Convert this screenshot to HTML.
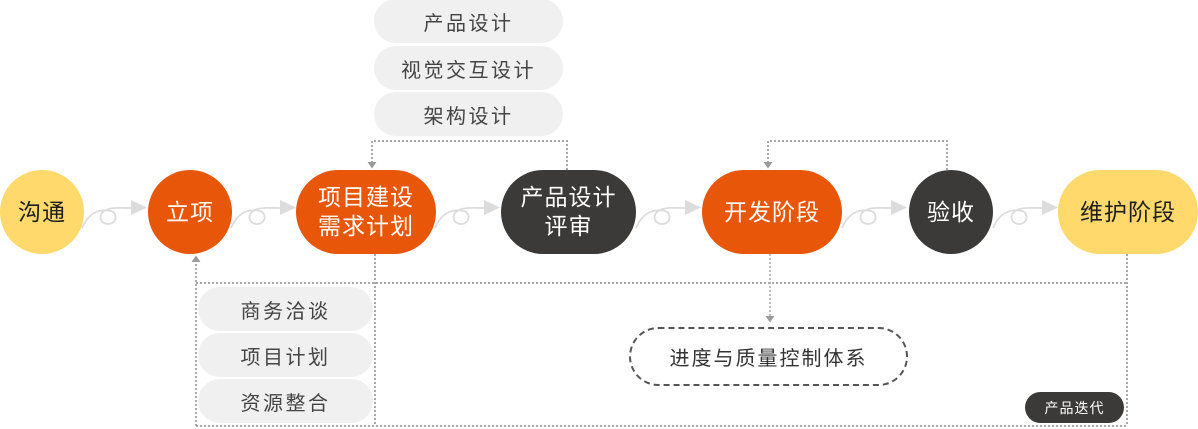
<!DOCTYPE html>
<html><head><meta charset="utf-8">
<style>
html,body{margin:0;padding:0;background:#fff;}
body{width:1198px;height:429px;position:relative;overflow:hidden;font-family:"Liberation Sans","Noto Sans CJK SC",sans-serif;}
.n{position:absolute;top:170px;height:84px;border-radius:42px;display:flex;align-items:center;justify-content:center;text-align:center;font-size:23px;line-height:29px;letter-spacing:1px;color:#fff;}
.y{background:#ffd96b;color:#1e1e1e;}
.o{background:#e8560a;}
.d{background:#3c3a38;}
.g{position:absolute;height:44px;border-radius:22px;background:#f0f0f0;color:#444;font-size:20px;letter-spacing:2.5px;display:flex;align-items:center;justify-content:center;}
svg{position:absolute;left:0;top:0;}
</style></head><body>
<svg width="1198" height="429" viewBox="0 0 1198 429">
<defs>
<g id="cv">
<path d="M82,228 C88,214 98,208 111,211 C118,213 117,224 108,224 C99,224 98,213 106,210 C113,207 121,208 132,208" fill="none" stroke="#dcdcdc" stroke-width="1.8"/>
<polygon points="131,200 131,215 147,207.5" fill="#dcdcdc"/>
</g>
</defs>
<use href="#cv" transform="translate(0,0)"/>
<use href="#cv" transform="translate(149,0)"/>
<use href="#cv" transform="translate(353,0)"/>
<use href="#cv" transform="translate(554,0)"/>
<use href="#cv" transform="translate(760,0)"/>
<use href="#cv" transform="translate(911,0)"/>
<g fill="none" stroke="#a9a9a9" stroke-width="2" stroke-dasharray="2 2">
<path d="M567,170 V141 H372 V162"/>
<path d="M947,170 V141 H768 V162"/>
<path d="M196,426 V261"/>
<path d="M196,283 H1127"/>
<path d="M375,254 V426"/>
<path d="M196,426 H1127"/>
<path d="M1127,254 V426"/>
<path d="M770,254 V316" stroke-width="1.5"/>
</g>
<g fill="#9a9a9a">
<polygon points="367.5,162 376.5,162 372,168.5"/>
<polygon points="763.5,162 772.5,162 768,168.5"/>
<polygon points="191.5,262 200.5,262 196,255.5"/>
<polygon points="765.5,316 774.5,316 770,322.5"/>
</g>
</svg>

<div class="n y" style="left:0;width:84px;">沟通</div>
<div class="n o" style="left:148px;width:84px;">立项</div>
<div class="n o" style="left:296px;width:140px;">项目建设<br>需求计划</div>
<div class="n d" style="left:501px;width:135px;">产品设计<br>评审</div>
<div class="n o" style="left:702px;width:140px;">开发阶段</div>
<div class="n d" style="left:909px;width:84px;">验收</div>
<div class="n y" style="left:1058px;width:140px;">维护阶段</div>

<div class="g" style="left:374px;top:-1px;width:189px;">产品设计</div>
<div class="g" style="left:374px;top:46px;width:189px;">视觉交互设计</div>
<div class="g" style="left:374px;top:92px;width:189px;">架构设计</div>

<div class="g" style="left:198px;top:287px;width:175px;">商务洽谈</div>
<div class="g" style="left:198px;top:333px;width:175px;">项目计划</div>
<div class="g" style="left:198px;top:379px;width:175px;">资源整合</div>

<div style="position:absolute;left:629px;top:327px;width:275px;height:55px;border:2px dashed #555;border-radius:30px;display:flex;align-items:center;justify-content:center;font-size:20px;letter-spacing:2px;color:#333;">进度与质量控制体系</div>

<div style="position:absolute;left:1025px;top:392px;width:99px;height:31px;border-radius:16px;background:#3c3a38;color:#fff;font-size:14px;letter-spacing:1px;display:flex;align-items:center;justify-content:center;">产品迭代</div>
</body></html>
